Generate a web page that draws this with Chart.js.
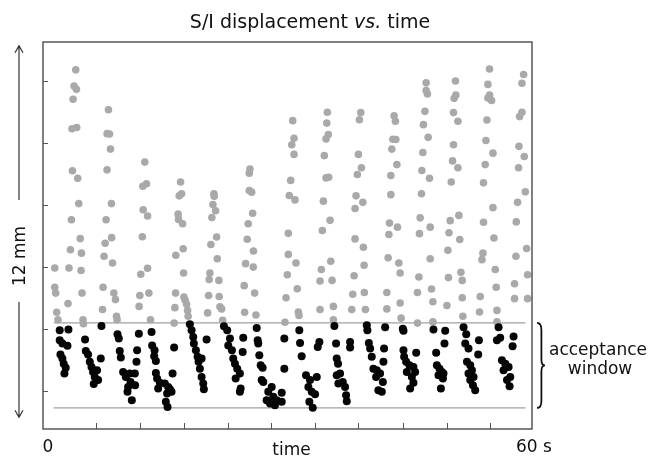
<!DOCTYPE html>
<html>
<head>
<meta charset="utf-8">
<script src="https://cdn.jsdelivr.net/npm/chart.js"></script>
<style>
body { margin: 0; background: #fff; }
#wrap { width: 649px; height: 458px; position: relative; }
</style>
</head>
<body>
<div id="wrap"><canvas id="myChart"></canvas></div>
<script>
// samples outside the acceptance window (grey), time in s, S/I displacement in mm
const outsideTime = [4.02,3.81,4.10,3.69,3.56,4.14,3.61,4.26,4.39,3.49,4.57,1.44,3.37,4.72,3.19,4.67,1.44,1.56,3.07,4.79,1.68,1.84,4.91,4.96,
  8.03,7.86,8.16,8.28,7.86,8.40,7.74,8.42,7.62,7.49,8.53,7.37,8.69,8.89,7.30,9.02,9.09,
  12.49,12.25,12.70,12.29,12.83,12.19,12.00,12.83,11.88,12.99,11.79,13.19,
  16.88,16.71,17.00,16.58,16.63,17.13,16.30,17.20,17.25,16.27,16.18,16.09,17.29,17.44,17.62,17.74,17.81,
  20.97,21.01,20.85,21.18,20.72,21.30,20.60,21.38,20.48,20.39,21.58,20.32,21.62,20.20,21.71,21.92,22.04,
  25.39,25.31,25.31,25.60,25.72,25.18,25.06,25.82,24.86,25.80,24.69,25.97,24.74,26.13,
  30.64,30.80,30.52,30.80,30.39,30.22,30.92,30.10,30.10,31.04,29.98,31.20,29.82,31.33,31.41,29.69,
  34.89,34.82,35.01,34.73,34.52,34.73,35.06,34.40,35.22,34.28,35.31,34.15,33.99,35.47,35.63,33.99,35.63,
  38.99,38.82,38.70,39.07,38.57,38.41,39.24,38.29,38.29,39.31,39.40,38.17,39.43,38.01,37.89,39.56,
  43.08,43.24,42.92,43.29,42.80,43.42,42.68,42.68,42.51,43.49,42.44,42.35,43.66,43.82,42.19,43.82,42.19,43.94,
  47.01,47.01,47.17,46.86,46.68,47.26,46.61,46.49,47.42,46.44,46.28,47.51,46.19,47.51,46.12,45.95,47.67,47.84,45.95,47.84,
  50.61,50.66,50.45,50.37,50.91,50.37,50.25,50.91,50.09,51.03,49.96,49.82,51.14,49.68,49.75,51.28,51.44,51.44,49.56,51.52,
  54.79,54.59,54.79,55.04,54.59,54.47,54.35,55.21,54.26,54.05,55.21,54.05,55.33,53.98,53.86,55.49,55.61,53.65,53.56,55.70,55.70,
  58.97,58.77,58.77,58.48,58.40,59.05,58.35,59.18,58.23,58.07,59.34,58.03,59.46,57.86,57.86,59.46];
const outsideDisp = [10.37,9.85,9.74,9.42,8.47,8.51,7.11,6.87,6.05,5.53,4.92,3.97,4.56,4.45,3.97,3.89,3.35,3.16,2.82,3.16,2.54,2.30,2.30,2.17,
  9.08,8.31,8.30,7.81,7.14,6.05,5.53,4.95,4.77,4.35,4.13,3.35,3.16,2.95,2.63,2.41,2.30,
  7.39,6.61,6.69,5.85,5.65,4.98,3.77,3.96,3.08,3.16,2.73,2.30,
  6.75,6.30,6.37,5.71,5.54,5.40,4.38,4.59,3.81,3.16,2.69,2.19,3.03,2.93,2.80,2.60,2.41,
  6.37,6.29,6.02,5.82,5.60,4.97,4.73,4.27,3.81,3.60,3.57,3.08,3.05,2.52,2.72,2.65,2.28,
  7.17,7.03,6.47,6.42,5.74,5.40,4.90,4.52,4.11,4.00,3.40,3.16,2.54,2.45,
  8.73,8.16,7.95,7.64,6.80,6.31,6.17,5.09,4.41,4.13,3.75,3.30,3.01,2.55,2.44,2.22,
  9.00,8.65,8.28,8.14,7.60,6.88,6.90,6.13,5.51,5.18,4.19,3.92,3.55,3.57,2.73,2.63,2.30,
  8.99,8.76,7.64,7.21,6.99,6.30,6.09,5.89,4.91,4.64,4.06,3.72,3.18,3.12,2.63,2.63,
  8.89,8.71,8.13,8.12,7.81,7.31,6.96,6.34,5.42,5.29,5.05,4.30,4.13,3.81,3.18,2.84,2.65,2.35,
  9.95,9.70,9.59,9.03,8.60,8.19,7.70,7.12,6.87,6.37,5.59,5.29,5.08,4.27,3.68,3.18,3.29,2.88,2.19,2.23,
  10.01,9.56,9.45,8.99,8.71,7.95,7.43,7.21,6.75,5.67,5.50,5.11,4.89,4.54,3.66,3.83,3.57,3.01,2.76,2.41,
  10.40,9.90,9.56,9.38,9.46,8.75,8.09,7.68,7.31,6.72,5.92,5.45,4.94,4.45,4.24,3.92,3.35,3.05,2.55,2.60,2.23,
  10.22,9.94,9.00,8.86,7.90,7.57,7.21,6.43,6.09,5.46,4.60,4.35,3.75,3.46,2.98,2.98];

// samples inside the acceptance window (black)
const insideTime = [2.05,3.12,2.05,2.38,3.00,2.14,2.38,2.54,2.79,2.63,
  5.16,5.25,5.53,7.09,5.74,5.95,6.14,6.63,6.35,6.76,6.23,
  7.17,9.14,9.30,9.42,9.55,9.83,10.16,10.65,11.27,10.74,10.44,11.30,10.37,10.90,11.76,11.55,11.47,
  13.32,13.39,13.69,13.64,13.85,13.85,14.00,14.34,14.13,14.95,15.36,15.57,15.23,15.77,15.07,15.28,15.90,16.09,
  18.02,18.23,18.43,18.51,18.76,18.97,19.09,19.46,19.25,19.46,19.66,19.74,20.07,
  22.20,22.60,22.94,22.73,23.18,23.34,23.55,23.83,23.64,24.16,24.25,24.16,24.57,24.50,
  26.22,26.34,26.41,26.54,26.71,26.95,26.83,27.03,27.64,27.44,28.06,28.26,27.85,28.46,28.67,29.29,29.29,29.61,29.61,
  31.45,31.54,31.74,32.27,32.76,32.56,33.59,32.97,33.38,32.68,33.10,33.91,33.71,
  35.75,35.96,36.04,36.20,36.04,36.45,36.78,36.24,37.06,37.19,37.27,37.68,37.68,
  39.73,39.80,39.98,40.14,40.34,40.54,40.96,40.87,41.36,41.70,41.15,41.57,41.98,41.85,41.77,
  44.15,44.23,44.23,45.79,44.31,44.56,44.96,45.45,44.64,45.66,45.26,45.45,45.05,
  47.91,49.35,49.26,48.24,48.33,48.65,48.94,48.53,49.14,49.07,48.82,
  51.60,51.93,51.81,52.21,53.49,53.40,52.02,52.42,52.63,52.21,52.83,52.42,52.75,53.03,
  55.90,55.70,56.10,57.74,57.62,56.31,56.72,57.13,56.51,57.33,56.93,57.25];
const insideDisp = [1.96,1.98,1.64,1.53,1.46,1.18,1.05,0.88,0.75,0.56,
  1.66,1.29,1.18,1.05,0.94,0.77,0.61,0.67,0.45,0.35,0.22,
  2.10,1.83,1.69,1.29,1.08,0.61,0.45,0.56,0.56,0.29,0.13,0.18,-0.03,-0.30,1.85,1.31,0.94,
  1.90,1.47,1.31,1.12,0.97,0.58,0.40,0.26,0.08,0.24,0.13,0.05,-0.08,-0.03,-0.35,-0.52,0.56,1.40,
  2.15,1.96,1.74,1.53,1.31,1.10,0.94,1.05,0.72,0.45,0.24,0.05,1.66,
  2.09,1.96,1.69,1.47,1.31,1.05,0.88,0.72,0.40,0.56,0.08,-0.03,1.72,1.26,
  2.03,1.64,1.53,1.15,0.83,0.75,0.35,0.29,-0.03,-0.30,0.13,-0.19,-0.41,-0.46,-0.30,-0.06,-0.35,1.69,0.72,
  1.96,1.55,1.12,0.51,0.35,0.13,0.45,-0.03,-0.11,-0.35,-0.54,1.58,1.42,
  2.10,1.53,1.05,0.88,0.51,0.56,0.29,0.24,0.13,-0.14,-0.33,1.58,1.40,
  2.12,1.96,1.55,1.37,1.10,0.72,0.67,0.45,0.56,0.29,0.02,-0.03,2.06,1.37,0.94,
  2.01,1.94,1.31,1.23,1.10,0.94,0.83,0.77,0.61,0.61,0.45,0.26,0.08,
  1.98,1.94,1.53,1.23,0.83,0.72,0.61,0.51,0.56,0.40,0.08,
  2.06,1.83,1.53,1.37,1.64,1.18,0.94,0.83,0.67,0.56,0.45,0.35,0.18,0.02,
  2.06,1.64,1.72,1.76,1.44,0.99,0.88,0.77,0.67,0.45,0.35,0.15];

// acceptance window limits (mm) and where the guide lines run (s)
const gateUpper = 2.2;
const gateLower = -0.55;
const gateFrom = 1.3;
const gateTo = 59.2;

// unlabelled tick marks
const timeTicks = [6.56, 11.88, 17.29, 22.65, 28.01, 33.38, 38.70, 44.19, 49.56, 54.87];
const dispTicks = [0, 2, 4, 6, 8, 10];
const arrowSpan = 12;   // the "12 mm" arrow
const arrowTop = 11.15;

const toPoints = (xs, ys) => xs.map((t, i) => ({ x: t, y: ys[i] }));

const FONT = '"DejaVu Sans", Verdana, sans-serif';

const decor = {
  id: 'decor',
  beforeDatasetsDraw(chart) {
    const ctx = chart.ctx, a = chart.chartArea, xs = chart.scales.x, ys = chart.scales.y;
    ctx.save();
    ctx.strokeStyle = '#555';
    ctx.lineWidth = 1;
    ctx.beginPath();
    dispTicks.forEach(v => {
      const py = Math.round(ys.getPixelForValue(v)) + 0.5;
      ctx.moveTo(a.left, py); ctx.lineTo(a.left + 5, py);
    });
    timeTicks.forEach(v => {
      const px = Math.round(xs.getPixelForValue(v)) + 0.5;
      ctx.moveTo(px, a.bottom); ctx.lineTo(px, a.bottom - 6);
    });
    ctx.stroke();
    ctx.restore();
  },
  afterDraw(chart) {
    const ctx = chart.ctx, a = chart.chartArea, xs = chart.scales.x, ys = chart.scales.y;
    ctx.save();
    // frame
    ctx.strokeStyle = '#4a4a4a';
    ctx.lineWidth = 1.4;
    ctx.strokeRect(a.left, a.top, a.right - a.left, a.bottom - a.top);

    ctx.fillStyle = '#111';
    ctx.textBaseline = 'alphabetic';

    // title with italic "vs."
    const p1 = 'S/I displacement ', p2 = 'vs.', p3 = ' time';
    ctx.font = '19px ' + FONT;
    const w1 = ctx.measureText(p1).width, w3 = ctx.measureText(p3).width;
    ctx.font = 'italic 19px ' + FONT;
    const w2 = ctx.measureText(p2).width;
    let tx = 310 - (w1 + w2 + w3) / 2;
    ctx.textAlign = 'left';
    ctx.font = '19px ' + FONT;
    ctx.fillText(p1, tx, 28);
    ctx.font = 'italic 19px ' + FONT;
    ctx.fillText(p2, tx + w1, 28);
    ctx.font = '19px ' + FONT;
    ctx.fillText(p3, tx + w1 + w2, 28);

    // x labels
    ctx.font = '17px ' + FONT;
    ctx.textAlign = 'center';
    ctx.fillText('0', xs.getPixelForValue(0) + 5, 452);
    ctx.fillText('60 s', xs.getPixelForValue(60) + 2, 452);
    ctx.fillText('time', (a.left + a.right) / 2 + 4, 455);

    // 12 mm arrow
    const ax = 19;
    const yTop = ys.getPixelForValue(arrowTop);
    const yBot = ys.getPixelForValue(arrowTop - arrowSpan);
    const yMid = 256;
    ctx.strokeStyle = '#333';
    ctx.lineWidth = 1.2;
    ctx.beginPath();
    ctx.moveTo(ax, yTop); ctx.lineTo(ax, yMid - 56);
    ctx.moveTo(ax, yMid + 46); ctx.lineTo(ax, yBot);
    ctx.moveTo(ax - 4, yTop + 7); ctx.lineTo(ax, yTop); ctx.lineTo(ax + 4, yTop + 7);
    ctx.moveTo(ax - 4, yBot - 7); ctx.lineTo(ax, yBot); ctx.lineTo(ax + 4, yBot - 7);
    ctx.stroke();
    ctx.save();
    ctx.translate(ax + 6, yMid);
    ctx.rotate(-Math.PI / 2);
    ctx.textAlign = 'center';
    ctx.fillText('12 mm', 0, 0);
    ctx.restore();

    // brace for the acceptance window
    const yU = ys.getPixelForValue(gateUpper), yL = ys.getPixelForValue(gateLower);
    const bx = a.right + 5, bw = 8, ym = (yU + yL) / 2, bm = bx + bw * 0.55;
    ctx.strokeStyle = '#111';
    ctx.lineWidth = 1.8;
    ctx.beginPath();
    ctx.moveTo(bx, yU);
    ctx.quadraticCurveTo(bm, yU, bm, yU + 7);
    ctx.lineTo(bm, ym - 6);
    ctx.quadraticCurveTo(bm, ym, bx + bw, ym);
    ctx.quadraticCurveTo(bm, ym, bm, ym + 6);
    ctx.lineTo(bm, yL - 7);
    ctx.quadraticCurveTo(bm, yL, bx, yL);
    ctx.stroke();

    ctx.textAlign = 'center';
    ctx.font = '17px ' + FONT;
    ctx.fillText('acceptance', 598, 355);
    ctx.fillText('window', 600, 374);
    ctx.restore();
  }
};

const myChart = document.getElementById('myChart');

new Chart(myChart, {
  type: 'scatter',
  data: {
    datasets: [
      {
        label: 'inside window',
        data: toPoints(insideTime, insideDisp),
        backgroundColor: '#050505',
        borderWidth: 0,
        pointRadius: 4,
        order: 1
      },
      {
        label: 'outside window',
        data: toPoints(outsideTime, outsideDisp),
        backgroundColor: '#a9a9a9',
        borderWidth: 0,
        pointRadius: 3.8,
        order: 2
      },
      {
        type: 'line',
        label: 'upper limit',
        data: [{ x: gateFrom, y: gateUpper }, { x: gateTo, y: gateUpper }],
        borderColor: '#a0a0a0',
        borderWidth: 1.2,
        pointRadius: 0,
        order: 3
      },
      {
        type: 'line',
        label: 'lower limit',
        data: [{ x: gateFrom, y: gateLower }, { x: gateTo, y: gateLower }],
        borderColor: '#a0a0a0',
        borderWidth: 1.2,
        pointRadius: 0,
        order: 3
      }
    ]
  },
  options: {
    responsive: true,
    maintainAspectRatio: false,
    animation: false,
    layout: { padding: { left: 43, top: 42, right: 117, bottom: 29 } },
    scales: {
      x: { type: 'linear', display: false, min: 0, max: 60 },
      y: { type: 'linear', display: false, min: -1.23, max: 11.27 }
    },
    plugins: {
      legend: { display: false },
      tooltip: { enabled: false },
      title: { display: false }
    }
  },
  plugins: [decor]
});
</script>
</body>
</html>
